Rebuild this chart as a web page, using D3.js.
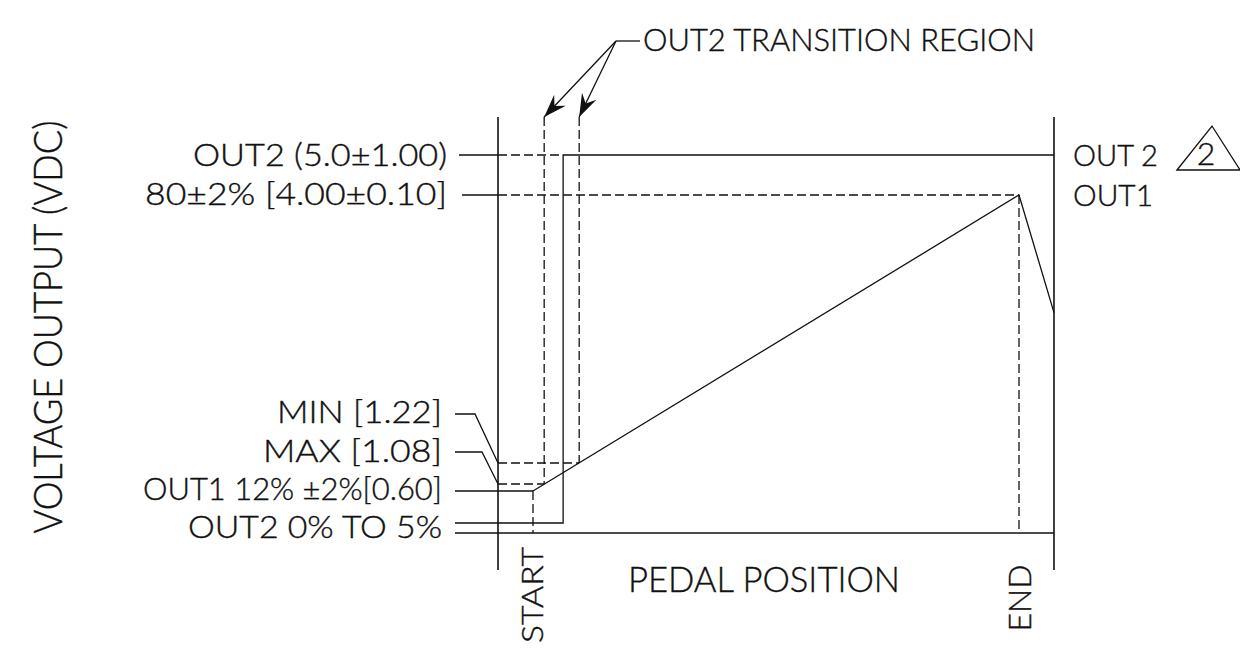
<!DOCTYPE html>
<html><head><meta charset="utf-8">
<script src="https://cdn.jsdelivr.net/npm/d3@7"></script>
<style>
body{margin:0;background:#fff}
text{font-family:Lato,"DejaVu Sans",sans-serif;font-weight:300;fill:#111;stroke:#111;stroke-width:0.4px}
</style>
</head><body>
<svg id="c" width="1240" height="655"></svg>
<script>
// ---- data ----
const pedalMarks = ["START", "END"];
const pedalMarkPct = [0, 100];
const framePct = [-7.2, 107.2];
const transitionPct = [2.3, 9.5];
const out1Pct = [0, 100, 107.2];
const out1Volt = [0.60, 4.00, 2.78];
const out2StepPct = 6.2;
const out2Volt = [0.25, 5.0];
const levelLabels = ["OUT2 (5.0±1.00)", "80±2% [4.00±0.10]", "MIN [1.22]", "MAX [1.08]", "OUT1 12% ±2%[0.60]", "OUT2 0% TO 5%"];
const levelVolts = [5.0, 4.0, 1.22, 1.08, 0.60, 0.25];
const zeroVolt = 0;
const seriesLabels = ["OUT 2", "OUT1"];
const revisionMark = "2";
const xTitle = "PEDAL POSITION";
const yTitle = "VOLTAGE OUTPUT (VDC)";
const calloutText = "OUT2 TRANSITION REGION";

// ---- scales (drawing is not to scale: piecewise voltage axis) ----
const x = d3.scaleLinear().domain([0, 100]).range([533, 1019]);
const y = d3.scaleLinear()
  .domain([0, 0.25, 0.60, 1.08, 1.22, 4.0, 5.0])
  .range([533, 523, 491, 484, 463, 195, 155]);

const svg = d3.select("#c");
const frameTop = 117, frameBottom = 570, leaderX = 455;
const xl = x(framePct[0]), xr = x(framePct[1]);
const dash = "9,4";
const g = svg.append("g").attr("fill", "none").attr("stroke", "#111").attr("stroke-width", 1.3);

function line(pts, dashed, w) {
  g.append("path").attr("d", d3.line()(pts))
    .attr("stroke-dasharray", dashed ? dash : null)
    .attr("stroke-width", w || 1.3);
}

// frame
line([[xl, frameTop], [xl, frameBottom]], false, 1.6);
line([[xr, frameTop], [xr, frameBottom]], false, 1.6);
line([[leaderX, y(zeroVolt)], [xr, y(zeroVolt)]]);

// OUT2
line([[leaderX, y(out2Volt[0])], [x(out2StepPct), y(out2Volt[0])], [x(out2StepPct), y(out2Volt[1])], [xr, y(out2Volt[1])]]);
line([[459, y(levelVolts[0])], [xl, y(levelVolts[0])]]);
line([[xl, y(levelVolts[0])], [x(out2StepPct), y(levelVolts[0])]], true);

// 80% level
line([[462, y(levelVolts[1])], [xl, y(levelVolts[1])]]);
line([[xl, y(levelVolts[1])], [x(pedalMarkPct[1]), y(levelVolts[1])]], true);
line([[x(pedalMarkPct[1]), y(levelVolts[1])], [x(pedalMarkPct[1]), y(zeroVolt)]], true);

// OUT1
line([[leaderX, y(out1Volt[0])], [x(out1Pct[0]), y(out1Volt[0])]]);
line(out1Pct.map((p, i) => [x(p), y(out1Volt[i])]));
line([[x(pedalMarkPct[0]), y(out1Volt[0])], [x(pedalMarkPct[0]), y(zeroVolt)]], true);

// MIN / MAX
line([[leaderX, 414], [475, 414], [xl, y(levelVolts[2])]]);
line([[xl, y(levelVolts[2])], [x(transitionPct[1]), y(levelVolts[2])]], true);
line([[x(transitionPct[1]), frameTop], [x(transitionPct[1]), y(levelVolts[2])]], true);
line([[leaderX, 452], [482, 452], [xl, y(levelVolts[3])]]);
line([[xl, y(levelVolts[3])], [x(transitionPct[0]), y(levelVolts[3])]], true);
line([[x(transitionPct[0]), frameTop], [x(transitionPct[0]), y(levelVolts[3])]], true);

// callout with arrows
svg.append("defs").append("marker").attr("id", "arr")
  .attr("markerUnits", "userSpaceOnUse").attr("orient", "auto")
  .attr("viewBox", "-24 -10 26 20").attr("markerWidth", 26).attr("markerHeight", 20)
  .attr("refX", 0).attr("refY", 0)
  .append("path").attr("d", "M0,0 L-23,-8 L-15,0 L-23,8 Z").attr("fill", "#111").attr("stroke", "none");
const co = [616, 41];
line([[640, co[1]], co]);
transitionPct.forEach(p => {
  g.append("path").attr("d", d3.line()([co, [x(p), frameTop]])).attr("marker-end", "url(#arr)");
});

// revision triangle
g.append("path").attr("d", d3.line()([[1177, 170], [1212, 126], [1240, 170]]) + "Z");

// ---- texts ----
function txt(s, opt) {
  const t = svg.append("text").text(s)
    .attr("font-size", opt.size)
    .attr("text-anchor", opt.anchor || "start");
  if (opt.rot) t.attr("transform", `translate(${opt.x},${opt.y}) rotate(-90)`);
  else t.attr("x", opt.x).attr("y", opt.y);
  if (opt.len) t.attr("textLength", opt.len).attr("lengthAdjust", "spacingAndGlyphs");
  return t;
}
const labelBase = [166, 205, 423, 462, 500, 538];
const labelRight = [447, 447, 442, 442, 442, 442];
const labelLen = [254, 302, 165, 179, 299, 254];
levelLabels.forEach((s, i) => txt(s, {x: labelRight[i], y: labelBase[i], size: 31, anchor: "end", len: labelLen[i]}));

txt(calloutText, {x: 643, y: 51, size: 31, len: 392});
txt(xTitle, {x: 628, y: 592, size: 36, len: 272});
txt(pedalMarks[0], {x: 543, y: 595, size: 29, anchor: "middle", rot: true, len: 96});
txt(pedalMarks[1], {x: 1031, y: 598, size: 31, anchor: "middle", rot: true, len: 67});
txt(yTitle, {x: 62, y: 327, size: 39, anchor: "middle", rot: true, len: 413});
txt(seriesLabels[0], {x: 1073, y: 166, size: 29, len: 85});
txt(seriesLabels[1], {x: 1073, y: 206, size: 29, len: 80});
txt(revisionMark, {x: 1206, y: 165, size: 32, anchor: "middle"});
</script>
</body></html>
